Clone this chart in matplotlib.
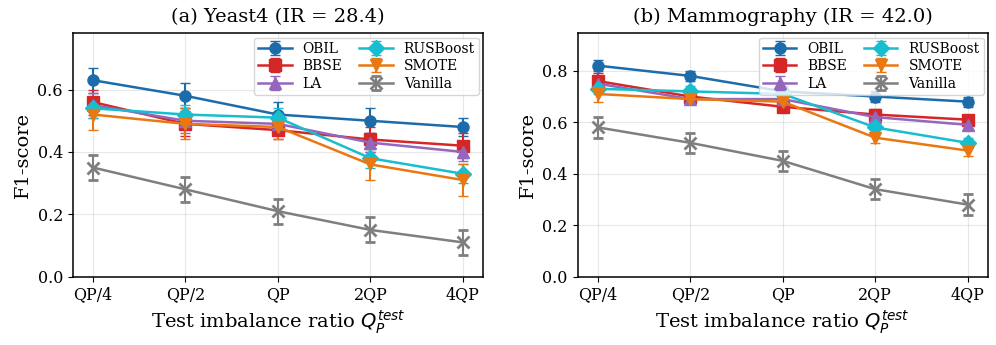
import numpy as np
import matplotlib.pyplot as plt

plt.rcParams['font.family'] = 'DejaVu Serif'

# x categories
x_labels = ["QP/4", "QP/2", "QP", "2QP", "4QP"]
methods = ["OBIL", "BBSE", "LA", "RUSBoost", "SMOTE", "Vanilla"]
colors = ["#1c6cac", "#d62728", "#9467bd", "#17becf", "#ea7812", "#7f7f7f"]
markers = ["o", "s", "^", "D", "v", "x"]

# (a) Yeast4
yeast_mean = {
    "OBIL":     [0.63, 0.58, 0.52, 0.50, 0.48],
    "BBSE":     [0.56, 0.49, 0.47, 0.44, 0.42],
    "LA":       [0.55, 0.50, 0.49, 0.43, 0.40],
    "RUSBoost": [0.54, 0.52, 0.51, 0.38, 0.33],
    "SMOTE":    [0.52, 0.49, 0.48, 0.36, 0.31],
    "Vanilla":  [0.35, 0.28, 0.21, 0.15, 0.11],
}
yeast_err = {
    "OBIL":     [0.04, 0.04, 0.04, 0.04, 0.03],
    "BBSE":     [0.04, 0.04, 0.03, 0.04, 0.04],
    "LA":       [0.04, 0.04, 0.03, 0.03, 0.03],
    "RUSBoost": [0.03, 0.03, 0.03, 0.03, 0.03],
    "SMOTE":    [0.05, 0.05, 0.04, 0.05, 0.05],
    "Vanilla":  [0.04, 0.04, 0.04, 0.04, 0.04],
}

# (b) Mammography
mammo_mean = {
    "OBIL":     [0.82, 0.78, 0.72, 0.70, 0.68],
    "BBSE":     [0.76, 0.70, 0.66, 0.63, 0.61],
    "LA":       [0.75, 0.69, 0.69, 0.62, 0.59],
    "RUSBoost": [0.73, 0.72, 0.71, 0.58, 0.52],
    "SMOTE":    [0.71, 0.69, 0.68, 0.54, 0.49],
    "Vanilla":  [0.58, 0.52, 0.45, 0.34, 0.28],
}
mammo_err = {
    "OBIL":     [0.02, 0.02, 0.02, 0.02, 0.02],
    "BBSE":     [0.03, 0.02, 0.02, 0.02, 0.02],
    "LA":       [0.02, 0.02, 0.02, 0.02, 0.02],
    "RUSBoost": [0.02, 0.02, 0.02, 0.02, 0.02],
    "SMOTE":    [0.03, 0.02, 0.02, 0.02, 0.02],
    "Vanilla":  [0.04, 0.04, 0.04, 0.04, 0.04],
}

titles = ["(a) Yeast4 (IR = 28.4)", "(b) Mammography (IR = 42.0)"]
ylims = [(0, 0.78), (0, 0.945)]


def draw(ax, means, errs, title, ylim):
    x = np.arange(len(x_labels))
    for m, c, mk in zip(methods, colors, markers):
        ax.errorbar(x, means[m], yerr=errs[m], color=c, marker=mk,
                    markersize=8 if mk != "x" else 9,
                    markeredgewidth=2 if mk == "x" else 1,
                    linewidth=1.8, capsize=3.5, capthick=1.5, elinewidth=1.5,
                    label=m)
    ax.set_xticks(x)
    ax.set_xticklabels(x_labels, fontsize=11.5)
    ax.tick_params(axis="y", labelsize=11.5)
    ax.set_ylim(*ylim)
    ax.set_xlim(-0.22, 4.22)
    ax.grid(True, alpha=0.3)
    for s in ax.spines.values():
        s.set_linewidth(1.1)
    ax.set_title(title, fontsize=14, pad=8)
    ax.set_xlabel(r"Test imbalance ratio $Q_P^{test}$", fontsize=14)
    ax.set_ylabel("F1-score", fontsize=14)
    ax.legend(ncol=2, loc="upper right", fontsize=10,
              handlelength=2.4, columnspacing=1.2,
              borderpad=0.3, labelspacing=0.25, borderaxespad=0.3)


fig, axes = plt.subplots(1, 2, figsize=(9.96, 3.45), dpi=100)
for ax, means, errs, title, ylim in zip(axes, [yeast_mean, mammo_mean],
                                        [yeast_err, mammo_err], titles, ylims):
    draw(ax, means, errs, title, ylim)

fig.subplots_adjust(left=0.073, right=0.992, top=0.903, bottom=0.198, wspace=0.23)
fig.savefig("out.png", dpi=100)
